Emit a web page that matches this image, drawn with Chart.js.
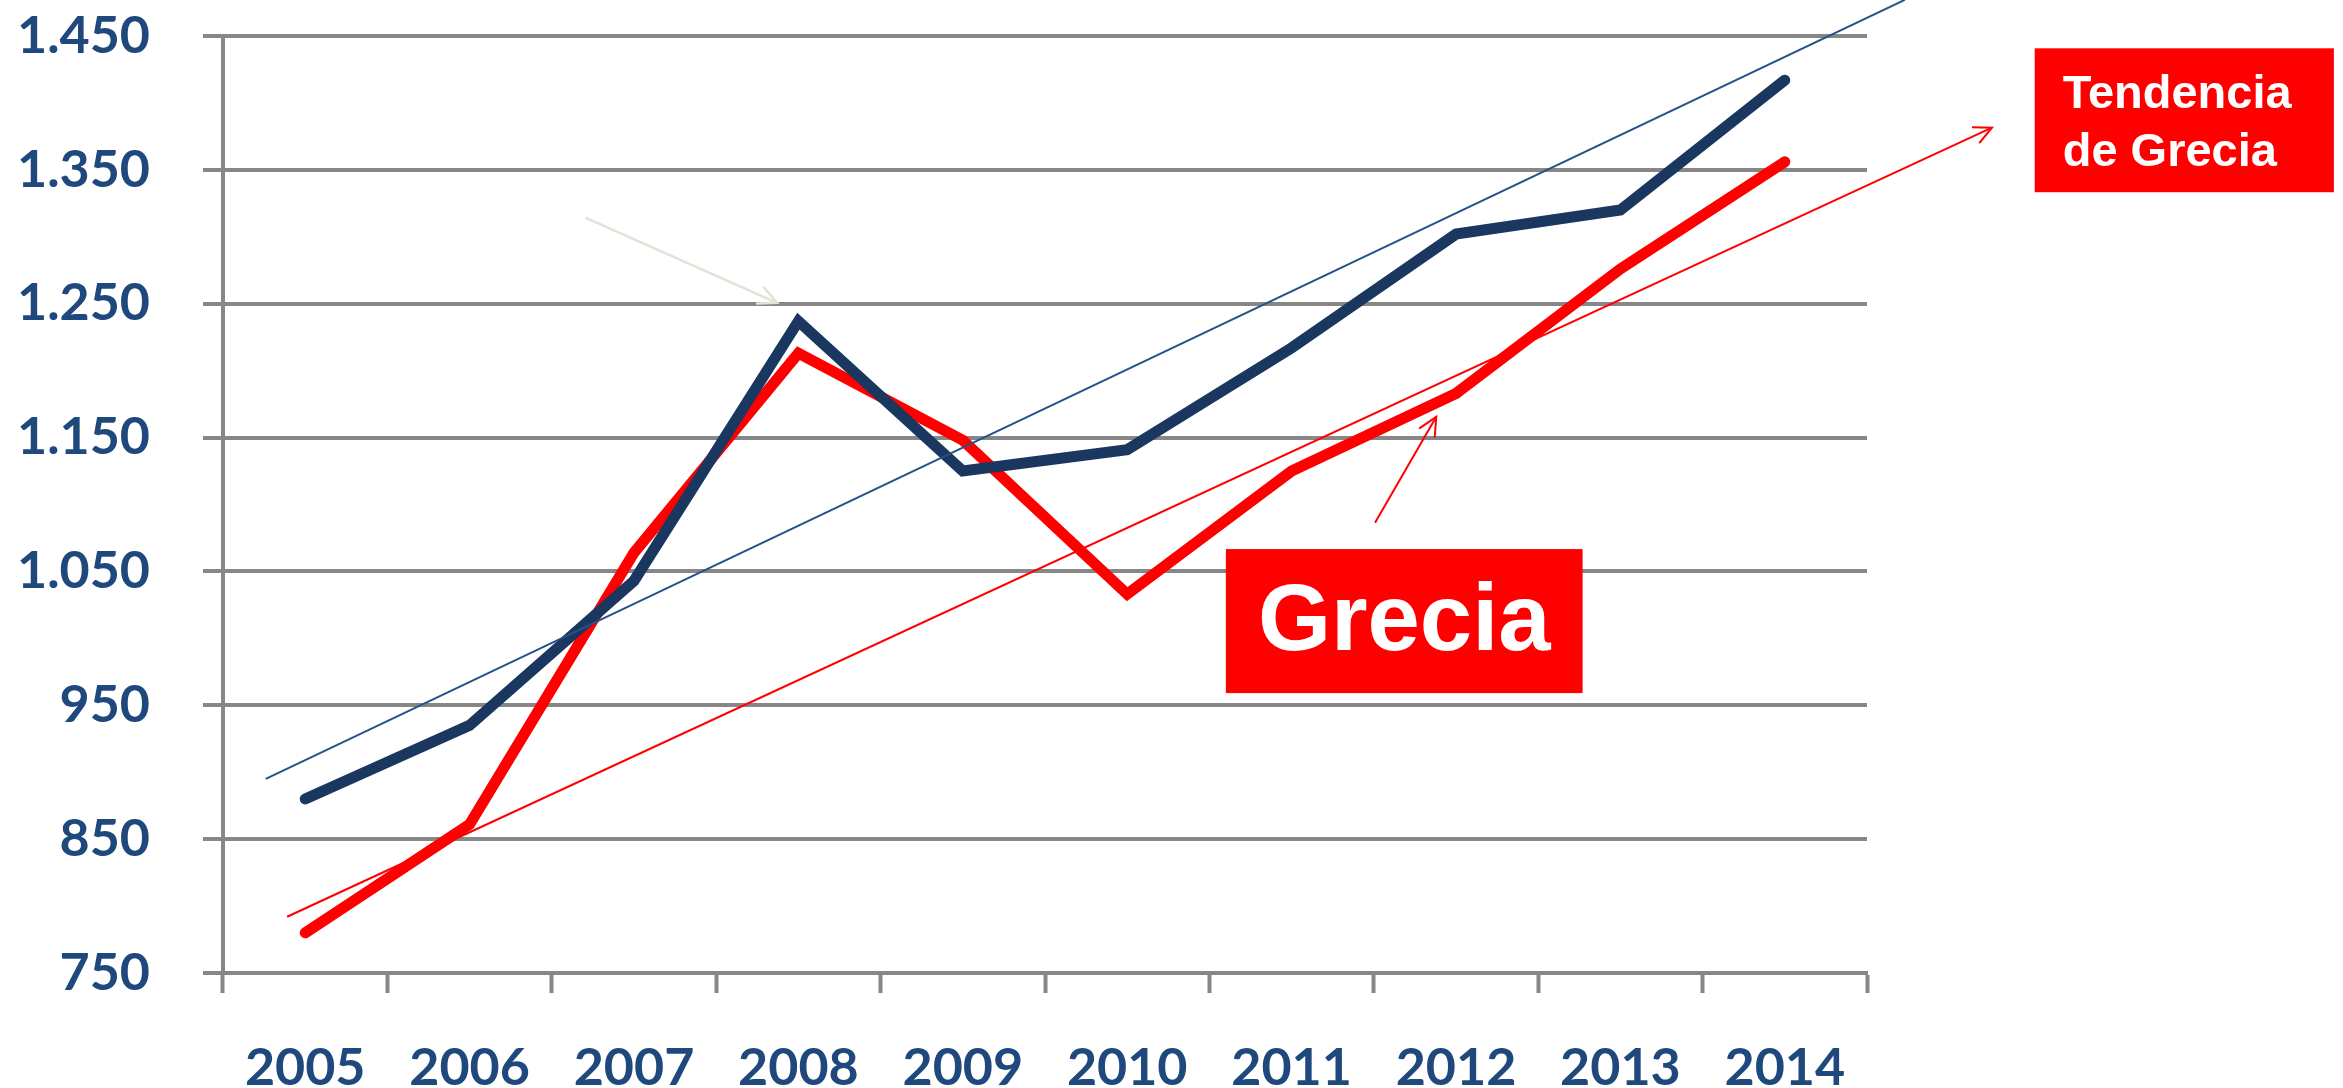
<!DOCTYPE html>
<html>
<head>
<meta charset="utf-8">
<script src="https://cdn.jsdelivr.net/npm/chart.js@4.4.1/dist/chart.umd.min.js"></script>
<style>
  html, body { margin: 0; padding: 0; background: #fff; }
  #wrap { width: 2343px; height: 1088px; }
</style>
</head>
<body>
<div id="wrap"><canvas id="grecia"></canvas></div>
<script>
const years = ['2005', '2006', '2007', '2008', '2009', '2010', '2011', '2012', '2013', '2014'];
const yearNums = [2005, 2006, 2007, 2008, 2009, 2010, 2011, 2012, 2013, 2014];
const blueValues = [880, 935, 1043, 1237, 1125, 1141, 1217, 1302, 1320, 1417];
const redValues = [780, 861, 1064, 1213, 1148, 1033, 1125, 1183, 1276, 1356];

// trend lines (start / end)
const blueTrendYears = [2004.76, 2014.73];
const blueTrendValues = [895, 1477];
const redTrendYears = [2004.89, 2015.26];
const redTrendValues = [792, 1381.5];

const yTickLabels = ['750', '850', '950', '1.050', '1.150', '1.250', '1.350', '1.450'];

const GRID = '#878787';
const TICK_BLUE = '#1f497d';

const toPoints = (xs, ys) => xs.map((x, i) => ({x: x, y: ys[i]}));

function arrowHead(ctx, x1, y1, x2, y2, len) {
  const a = Math.atan2(y2 - y1, x2 - x1);
  ctx.beginPath();
  ctx.moveTo(x2 - len * Math.cos(a - 0.45), y2 - len * Math.sin(a - 0.45));
  ctx.lineTo(x2, y2);
  ctx.lineTo(x2 - len * Math.cos(a + 0.45), y2 - len * Math.sin(a + 0.45));
  ctx.stroke();
}

function arrow(ctx, x1, y1, x2, y2, color, width, len) {
  ctx.strokeStyle = color;
  ctx.lineWidth = width;
  ctx.lineCap = 'round';
  ctx.beginPath();
  ctx.moveTo(x1, y1);
  ctx.lineTo(x2, y2);
  ctx.stroke();
  arrowHead(ctx, x1, y1, x2, y2, len);
}

const notes = {
  id: 'notes',
  afterDatasetsDraw(chart) {
    const ctx = chart.ctx;
    const xv = chart.scales.xv, y = chart.scales.y;
    const px = v => xv.getPixelForValue(v);
    const py = v => y.getPixelForValue(v);
    ctx.save();

    // arrow at the end of the Greek trend line
    const n = redTrendYears.length;
    ctx.strokeStyle = '#ff0000';
    ctx.lineWidth = 2;
    arrowHead(ctx, px(redTrendYears[n - 2]), py(redTrendValues[n - 2]),
      px(redTrendYears[n - 1]), py(redTrendValues[n - 1]), 20);

    // faint arrow pointing at the 2008 peak
    arrow(ctx, px(2006.71), py(1314), px(2007.87), py(1250.7), '#e4e2d6', 2.5, 20);

    // red arrow from the label up to the Greek line
    arrow(ctx, px(2011.51), py(1087), px(2011.88), py(1165.5), '#ff0000', 2, 20);

    // "Grecia" box
    let x1 = px(2010.60), x2 = px(2012.77), y1 = py(1066.7), y2 = py(959.1);
    ctx.fillStyle = '#ff0000';
    ctx.fillRect(x1, y1, x2 - x1, y2 - y1);
    ctx.fillStyle = '#ffffff';
    ctx.font = 'bold 94px "Liberation Sans", Arial, sans-serif';
    ctx.textAlign = 'center';
    ctx.textBaseline = 'middle';
    ctx.fillText('Grecia', (x1 + x2) / 2, (y1 + y2) / 2 + 3);

    // "Tendencia de Grecia" box
    x1 = px(2015.52); x2 = px(2017.34); y1 = py(1440.8); y2 = py(1333.3);
    ctx.fillStyle = '#ff0000';
    ctx.fillRect(x1, y1, x2 - x1, y2 - y1);
    ctx.fillStyle = '#ffffff';
    ctx.font = 'bold 47px "Liberation Sans", Arial, sans-serif';
    ctx.textAlign = 'left';
    ctx.textBaseline = 'alphabetic';
    ctx.fillText('Tendencia', x1 + 28, y1 + 60);
    ctx.fillText('de Grecia', x1 + 28, y1 + 118);

    ctx.restore();
  }
};

new Chart(document.getElementById('grecia'), {
  type: 'line',
  data: {
    datasets: [
      {
        label: 'Tendencia',
        data: toPoints(blueTrendYears, blueTrendValues),
        borderColor: '#24528a',
        borderWidth: 2,
        pointRadius: 0,
        clip: false,
        xAxisID: 'xv'
      },
      {
        label: 'Tendencia de Grecia',
        data: toPoints(redTrendYears, redTrendValues),
        borderColor: '#ff0000',
        borderWidth: 2,
        pointRadius: 0,
        clip: false,
        xAxisID: 'xv'
      },
      {
        label: 'Media',
        data: toPoints(yearNums, blueValues),
        borderColor: '#1a3760',
        borderWidth: 11,
        borderCapStyle: 'round',
        borderJoinStyle: 'miter',
        pointRadius: 0,
        tension: 0,
        xAxisID: 'xv'
      },
      {
        label: 'Grecia',
        data: toPoints(yearNums, redValues),
        borderColor: '#ff0000',
        borderWidth: 11,
        borderCapStyle: 'round',
        borderJoinStyle: 'miter',
        pointRadius: 0,
        tension: 0,
        xAxisID: 'xv'
      }
    ]
  },
  options: {
    responsive: true,
    maintainAspectRatio: false,
    animation: false,
    layout: {padding: {top: 36, right: 476, bottom: 0, left: 0}},
    plugins: {legend: {display: false}, tooltip: {enabled: false}},
    scales: {
      xv: {
        type: 'linear',
        display: false,
        min: 2004.5,
        max: 2014.5
      },
      x: {
        type: 'category',
        labels: years,
        offset: true,
        afterFit: s => { s.height = 115; s.paddingLeft = 0; s.paddingRight = 0; },
        grid: {
          offset: true,
          drawOnChartArea: false,
          drawTicks: true,
          tickLength: 20,
          tickColor: GRID,
          tickWidth: 4
        },
        border: {display: true, color: GRID, width: 4},
        ticks: {
          color: TICK_BLUE,
          font: {family: 'Lato', weight: 'bold', size: 52},
          padding: 44,
          maxRotation: 0
        }
      },
      y: {
        min: 750,
        max: 1450,
        afterFit: s => { s.width = 223; s.paddingTop = 0; s.paddingBottom = 0; },
        grid: {
          color: GRID,
          lineWidth: 4,
          drawTicks: true,
          tickLength: 20,
          tickColor: GRID,
          tickWidth: 4
        },
        border: {display: true, color: GRID, width: 4},
        ticks: {
          stepSize: 100,
          color: TICK_BLUE,
          font: {family: 'Lato', weight: 'bold', size: 52},
          padding: 53,
          callback: (v, i) => yTickLabels[i]
        }
      }
    }
  },
  plugins: [notes]
});
</script>
</body>
</html>
